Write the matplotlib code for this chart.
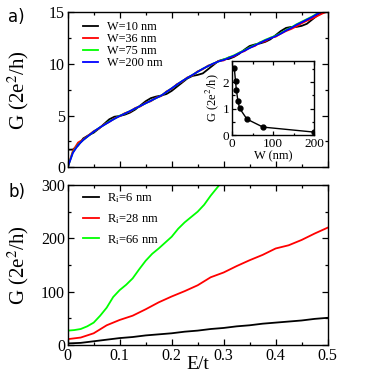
import numpy as np
import matplotlib
matplotlib.use("Agg")
import matplotlib.pyplot as plt
from matplotlib.ticker import MultipleLocator

plt.rcParams['font.family'] = ['Liberation Serif', 'DejaVu Serif']
plt.rcParams['mathtext.fontset'] = 'stix'

# panel a: G vs E/t for different widths
E_a = np.round(np.arange(0, 0.501, 0.01), 2)
G_w10 = [1.7, 1.72, 2.1, 2.8, 3.1, 3.35, 3.75, 4.2, 4.65, 4.9,
         4.97, 5.1, 5.3, 5.6, 6.0, 6.4, 6.7, 6.85, 6.95, 7.1,
         7.4, 7.8, 8.2, 8.6, 8.85, 8.95, 9.1, 9.5, 9.9, 10.3,
         10.45, 10.5, 10.7, 11.0, 11.4, 11.75, 11.9, 12.0, 12.15, 12.4,
         12.8, 13.2, 13.5, 13.6, 13.6, 13.7, 13.9, 14.3, 14.7, 15.0,
         15.3]
G_w36 = [0.0, 1.6, 2.4, 2.7, 3.1, 3.5, 3.75, 4.15, 4.4, 4.75,
         4.95, 5.25, 5.4, 5.75, 5.9, 6.25, 6.4, 6.75, 6.9, 7.35,
         7.6, 8.05, 8.3, 8.7, 8.9, 9.3, 9.5, 9.85, 10.0, 10.3,
         10.35, 10.65, 10.75, 11.1, 11.25, 11.6, 11.75, 12.1, 12.2, 12.55,
         12.65, 12.95, 13.2, 13.4, 13.65, 13.95, 14.2, 14.4, 14.65, 14.9,
         15.1]
G_w75 = [0.0, 1.45, 2.2, 2.65, 3.05, 3.45, 3.8, 4.1, 4.45, 4.7,
         5.0, 5.2, 5.45, 5.7, 5.95, 6.2, 6.45, 6.7, 6.95, 7.3,
         7.65, 8.0, 8.35, 8.65, 8.95, 9.25, 9.55, 9.8, 10.05, 10.25,
         10.45, 10.65, 10.85, 11.1, 11.35, 11.6, 11.85, 12.1, 12.35, 12.55,
         12.75, 13.0, 13.3, 13.55, 13.85, 14.1, 14.35, 14.6, 14.9, 15.15,
         15.4]
G_w200 = [0.0, 1.4, 2.15, 2.65, 3.05, 3.45, 3.8, 4.1, 4.4, 4.7,
          4.97, 5.2, 5.45, 5.7, 5.95, 6.2, 6.45, 6.7, 6.95, 7.3,
          7.65, 8.0, 8.35, 8.65, 8.95, 9.25, 9.55, 9.8, 10.05, 10.25,
          10.4, 10.6, 10.8, 11.05, 11.3, 11.55, 11.8, 12.05, 12.3, 12.5,
          12.7, 12.95, 13.25, 13.5, 13.8, 14.05, 14.3, 14.55, 14.85, 15.1,
          15.35]

# inset: G at E=0 vs width
W_inset = [5, 8, 10, 14, 18, 36, 75, 200]
G_inset = [2.54, 2.03, 1.72, 1.27, 1.01, 0.60, 0.30, 0.11]

# panel b: G vs E/t for different radii
E_b = np.round(np.arange(0, 0.501, 0.025), 3)
G_r6 = [3, 4, 7, 10, 13, 15, 18, 20, 22, 25, 27,
        30, 32, 35, 37, 40, 42, 44, 46, 49, 51]
G_r28 = [11, 14, 22, 37, 47, 55, 67, 80, 91, 101, 112,
         127, 136, 148, 159, 169, 181, 187, 197, 209, 220]
E_g = np.round(np.arange(0, 0.301, 0.0125), 4)
G_r66 = [27, 28, 30, 35, 42, 55, 70, 90, 103, 113, 125, 142, 158,
         171, 181, 192, 203, 218, 230, 240, 250, 263, 280, 295, 310]

fig = plt.figure(figsize=(3.74, 3.74), dpi=100)
ax1 = fig.add_axes([0.181, 0.5527, 0.695, 0.414])
ax2 = fig.add_axes([0.181, 0.0775, 0.695, 0.4278])
axin = fig.add_axes([0.621, 0.639, 0.219, 0.1976])


def style(ax, fs):
    for s in ax.spines.values():
        s.set_linewidth(1.0)
    ax.tick_params(which='both', direction='in', top=True, right=True,
                   labelsize=fs, width=0.9, pad=2)
    ax.tick_params(which='major', length=4.3)
    ax.tick_params(which='minor', length=2.5)


ax1.plot(E_a, G_w10, color='black', lw=1.3, label='W=10 nm')
ax1.plot(E_a, G_w36, color='red', lw=1.3, label='W=36 nm')
ax1.plot(E_a, G_w75, color='#00ff00', lw=1.3, label='W=75 nm')
ax1.plot(E_a, G_w200, color='blue', lw=1.3, label='W=200 nm')
ax1.set_xlim(0, 0.5)
ax1.set_ylim(0, 15)
ax1.xaxis.set_major_locator(MultipleLocator(0.1))
ax1.xaxis.set_minor_locator(MultipleLocator(0.05))
ax1.yaxis.set_major_locator(MultipleLocator(5))
ax1.yaxis.set_minor_locator(MultipleLocator(2.5))
ax1.set_xticklabels([])
style(ax1, 11.5)
ax1.set_ylabel('G (2e$^2$/h)', fontsize=15)
ax1.yaxis.set_label_coords(-0.14, 0.5)
ax1.legend(loc='upper left', bbox_to_anchor=(0.059, 0.945), frameon=False,
           fontsize=8.8, handlelength=1.2, handletextpad=0.8,
           labelspacing=0.0, borderpad=0, borderaxespad=0)

axin.plot(W_inset, G_inset, 'o-', color='black', lw=1.0, markersize=3.5)
axin.set_xlim(0, 200)
axin.set_ylim(0, 2.8)
axin.xaxis.set_major_locator(MultipleLocator(100))
axin.xaxis.set_minor_locator(MultipleLocator(50))
axin.yaxis.set_major_locator(MultipleLocator(1))
axin.yaxis.set_minor_locator(MultipleLocator(0.5))
style(axin, 9.5)
axin.tick_params(which='major', length=3)
axin.tick_params(which='minor', length=1.8)
axin.set_xlabel('W (nm)', fontsize=9, labelpad=0)
axin.set_ylabel('G (2e$^2$/h)', fontsize=9, labelpad=1)

ax2.plot(E_b, G_r6, color='black', lw=1.3, label='R$_\\mathregular{i}$=6 nm')
ax2.plot(E_b, G_r28, color='red', lw=1.3, label='R$_\\mathregular{i}$=28 nm')
ax2.plot(E_g, G_r66, color='#00ff00', lw=1.3, label='R$_\\mathregular{i}$=66 nm')
ax2.set_xlim(0, 0.5)
ax2.set_ylim(0, 300)
ax2.xaxis.set_major_locator(MultipleLocator(0.1))
ax2.xaxis.set_minor_locator(MultipleLocator(0.05))
ax2.yaxis.set_major_locator(MultipleLocator(100))
ax2.yaxis.set_minor_locator(MultipleLocator(50))
ax2.set_xticks([0, 0.1, 0.2, 0.3, 0.4, 0.5])
ax2.set_xticklabels(['0', '0.1', '0.2', '0.3', '0.4', '0.5'])
style(ax2, 11.5)
ax2.set_ylabel('G (2e$^2$/h)', fontsize=15)
ax2.yaxis.set_label_coords(-0.14, 0.5)
ax2.legend(loc='upper left', bbox_to_anchor=(0.059, 0.96), frameon=False,
           fontsize=9, handlelength=1.25, handletextpad=0.7,
           labelspacing=0.55, borderpad=0, borderaxespad=0)

fig.text(198 / 374, 0.002, 'E/t', fontsize=14, ha='center', va='bottom')
fig.text(8 / 374, 1 - 17 / 374, 'a)', fontsize=12, family='DejaVu Sans',
         ha='left', va='center')
fig.text(8 / 374, 1 - 192 / 374, 'b)', fontsize=12, family='DejaVu Sans',
         ha='left', va='center')

fig.savefig('out.png', dpi=100)
